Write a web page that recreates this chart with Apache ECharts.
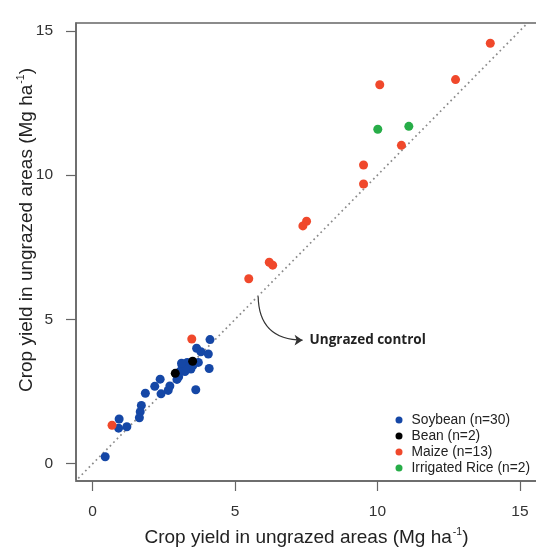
<!DOCTYPE html>
<html>
<head>
<meta charset="utf-8">
<script src="https://cdn.jsdelivr.net/npm/echarts@6/dist/echarts.min.js"></script>
<style>html,body{margin:0;padding:0;background:#fff;}#c{width:536px;height:547px;}</style>
</head>
<body>
<div id="c"></div>
<script>
// ---- data ----
const soybeanX = [4.12,3.65,3.80,4.06,3.71,4.09,3.32,3.14,3.45,3.24,3.02,2.96,2.37,2.18,2.71,2.65,2.40,3.62,1.85,1.71,1.67,1.64,0.93,0.91,1.20,0.44,3.06,3.27,3.53,3.12];
const soybeanY = [4.30,4.00,3.88,3.80,3.51,3.30,3.51,3.40,3.28,3.19,3.01,2.92,2.93,2.68,2.69,2.54,2.42,2.56,2.44,2.02,1.80,1.59,1.55,1.23,1.28,0.24,3.19,3.36,3.42,3.48];
const beanX = [2.90,3.51];
const beanY = [3.13,3.55];
const maizeX = [13.96,12.74,10.08,10.84,9.51,9.51,7.51,7.38,6.20,6.32,5.48,3.48,0.68];
const maizeY = [14.57,13.31,13.13,11.03,10.35,9.69,8.40,8.24,6.98,6.88,6.41,4.32,1.33];
const riceX = [10.01,11.10];
const riceY = [11.59,11.69];
const seriesNames = ['Soybean (n=30)','Bean (n=2)','Maize (n=13)','Irrigated Rice (n=2)'];
const tickValues = [0,5,10,15];
const oneToOne = [-1,16];
const arrowFrom = [5.81,5.81];
const arrowTo = [7.37,4.28];
const annotationText = 'Ungrazed control';

const zip = (xs, ys) => xs.map((x,i)=>[x, ys[i]]);
const colors = ['#1547a6','#000000','#f0482b','#27ad48'];

const chart = echarts.init(document.getElementById('c'), null, {renderer:'canvas'});
const axisFont = 'Liberation Sans, Arial, sans-serif';
const titleRich = {
  a:{fontSize:19, color:'#222', fontFamily:axisFont},
  s:{fontSize:10.5, color:'#222', fontFamily:axisFont, verticalAlign:'top', padding:[0,0,10,1]}
};
const titleText = '{a|Crop yield in ungrazed areas (Mg ha}{s|-1}{a|)}';

chart.setOption({
  animation:false,
  backgroundColor:'#fff',
  grid:{left:76, top:23, right:-1, bottom:66, show:true, borderColor:'#666', borderWidth:1.5,
        backgroundColor:'transparent', containLabel:false, outerBoundsMode:'none'},
  legend:{
    orient:'vertical', left:390.5, top:408,
    icon:'circle', itemWidth:7, itemHeight:7, itemGap:2,
    data:seriesNames,
    textStyle:{fontSize:13.8, color:'#222', fontFamily:axisFont, padding:[0,0,0,4]}
  },
  xAxis:{
    type:'value', min:-0.585, max:15.6,
    interval:5,
    splitLine:{show:false},
    axisLine:{show:true, onZero:false, lineStyle:{color:'#666', width:1.5}},
    axisTick:{show:true, inside:false, length:10, lineStyle:{color:'#666', width:1.2}, customValues:tickValues},
    axisLabel:{fontSize:15.5, color:'#333', margin:23, fontFamily:axisFont, customValues:tickValues},
    name:titleText, nameLocation:'middle', nameGap:46,
    nameTextStyle:{rich:titleRich}
  },
  yAxis:{
    type:'value', min:-0.6, max:15.27,
    interval:5,
    splitLine:{show:false},
    axisLine:{show:true, onZero:false, lineStyle:{color:'#666', width:1.5}},
    axisTick:{show:true, inside:false, length:10, lineStyle:{color:'#666', width:1.2}, customValues:tickValues},
    axisLabel:{fontSize:15.5, color:'#333', margin:23, fontFamily:axisFont, customValues:tickValues},
    name:titleText, nameLocation:'middle', nameGap:39, nameMoveOverlap:false,
    nameTextStyle:{rich:titleRich, padding:[0,0,0,44]}
  },
  series:[
    {
      type:'line', data:zip(oneToOne, oneToOne), symbol:'none', silent:true,
      lineStyle:{color:'#8a8a8a', width:1.7, type:[1.7,3.3]},
      clip:true, z:1,
      markPoint:{
        silent:true, symbol:'circle', symbolSize:0,
        label:{show:true, position:'right', distance:7, formatter:annotationText,
          fontFamily:'Open Sans, sans-serif', fontWeight:'bold', fontSize:13.5, color:'#222'},
        data:[{coord:arrowTo}]
      }
    },
    {
      type:'lines', coordinateSystem:'cartesian2d', silent:true, z:1,
      symbol:['none','arrow'], symbolSize:8,
      lineStyle:{color:'#333', width:1.2, curveness:-0.49, opacity:1},
      data:[{coords:[arrowFrom, arrowTo]}]
    },
    {name:seriesNames[0], type:'scatter', data:zip(soybeanX, soybeanY), symbolSize:9, itemStyle:{color:colors[0], opacity:1}, z:2},
    {name:seriesNames[1], type:'scatter', data:zip(beanX, beanY), symbolSize:9, itemStyle:{color:colors[1], opacity:1}, z:3},
    {name:seriesNames[2], type:'scatter', data:zip(maizeX, maizeY), symbolSize:9, itemStyle:{color:colors[2], opacity:1}, z:4},
    {name:seriesNames[3], type:'scatter', data:zip(riceX, riceY), symbolSize:9, itemStyle:{color:colors[3], opacity:1}, z:5}
  ]
});
</script>
</body>
</html>
